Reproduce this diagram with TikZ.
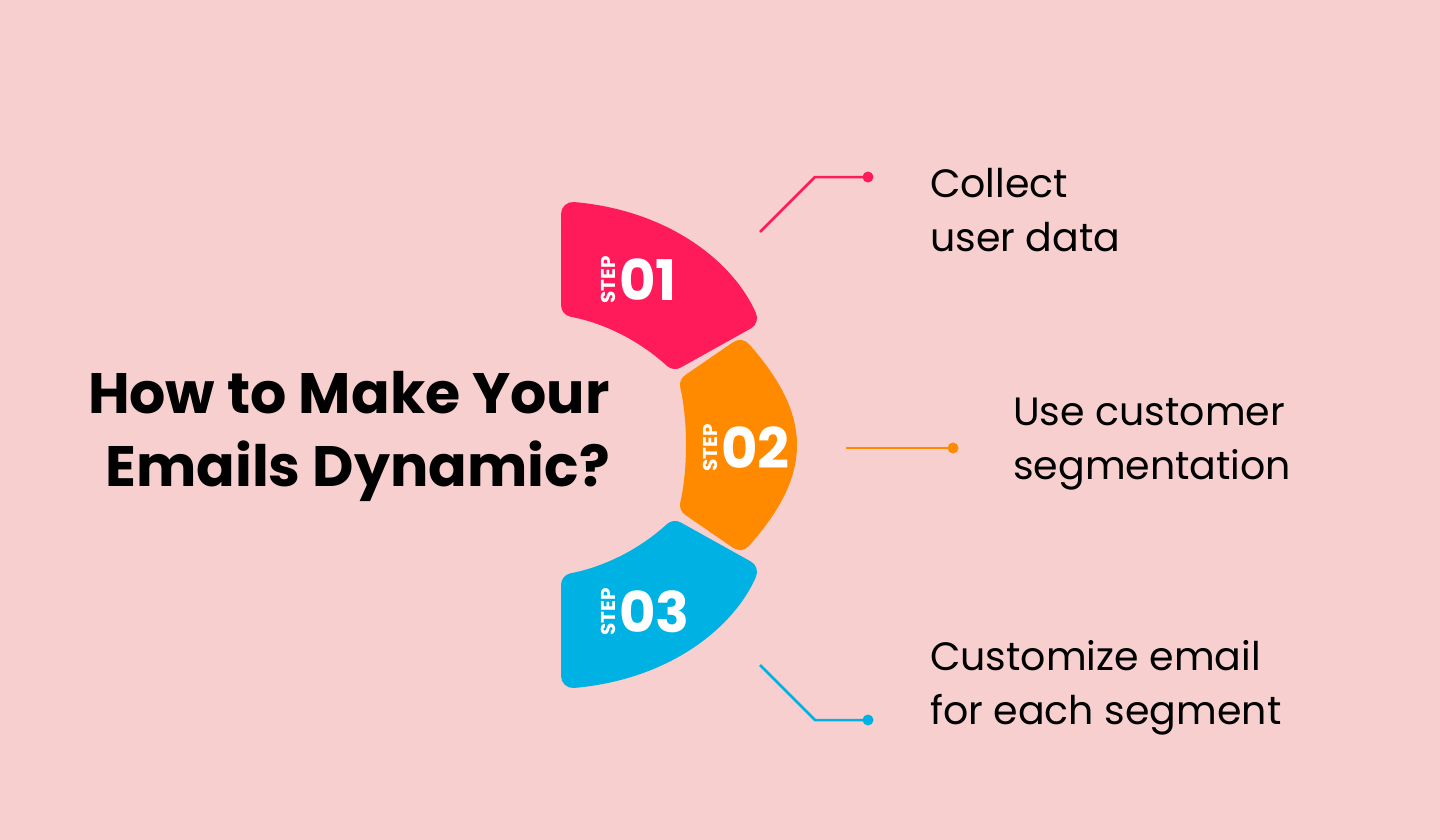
\documentclass[tikz,border=0pt]{standalone}
\usepackage{fontspec}
\setmainfont{Poppins}
\definecolor{bg}{HTML}{F8CFCF}
\definecolor{cpink}{HTML}{FF1A5A}
\definecolor{corange}{HTML}{FF8A00}
\definecolor{cblue}{HTML}{00B2E3}
\begin{document}
\begin{tikzpicture}[x=1pt,y=-1pt,
  seg/.style={fill=#1,draw=#1,line width=24pt,line join=round},
  conn/.style={draw=#1,line width=2.5pt},
  dotc/.style={circle,fill=#1,inner sep=0pt,minimum size=11pt},
  lbl/.style={anchor=north west,inner sep=0pt,align=left,font=\fontsize{39.5}{54}\selectfont},
  stepnum/.style={text=white,inner sep=0pt,font=\fontsize{56}{56}\selectfont\bfseries},
  steptxt/.style={text=white,inner sep=0pt,rotate=90,font=\fontsize{20}{20}\selectfont\bfseries}]
\fill[bg] (0,0) rectangle (1440,840);
\useasboundingbox (0,0) rectangle (1440,840);
% segments
\path[seg=cpink] (573,214) .. controls (665,222) and (725,272) .. (745,318) -- (675,357) .. controls (640,325) and (600,310) .. (573,305) -- cycle;
\path[seg=corange] (692,385) -- (740,352) .. controls (800,420) and (800,470) .. (740,538) -- (692,505) .. controls (700,470) and (700,420) .. cycle;
\path[seg=cblue] (573,676) .. controls (665,668) and (725,618) .. (745,572) -- (675,533) .. controls (640,565) and (600,580) .. (573,585) -- cycle;
% step labels
\node[steptxt] (s1) at (608,280) {STEP};
\node[stepnum,anchor=west] (n1) at (619,280) {01};
\node[steptxt] (s2) at (710,448) {STEP};
\node[stepnum,anchor=west] (n2) at (721,448) {02};
\node[steptxt] (s3) at (608,612) {STEP};
\node[stepnum,anchor=west] (n3) at (619,612) {03};
% title
\node[anchor=east,inner sep=0pt,align=right,font=\fontsize{57}{73}\selectfont\bfseries] (title) at (610,436) {How to Make Your\\Emails Dynamic?};
% connectors
\coordinate (a1) at (760,232); \coordinate (b1) at (815,177);
\node[dotc=cpink] (d1) at (868,177) {};
\draw[conn=cpink] (a1) -- (b1) -- (d1.center);
\coordinate (a2) at (846,448);
\node[dotc=corange] (d2) at (953,448) {};
\draw[conn=corange] (a2) -- (d2.center);
\coordinate (a3) at (760,665); \coordinate (b3) at (815,720);
\node[dotc=cblue] (d3) at (868,720) {};
\draw[conn=cblue] (a3) -- (b3) -- (d3.center);
% labels
\node[lbl] (t1) at (930,168) {Collect\\user data};
\node[lbl] (t2) at (1013,398) {Use customer\\segmentation};
\node[lbl] (t3) at (930,640) {Customize email\\for each segment};
\end{tikzpicture}
\end{document}
